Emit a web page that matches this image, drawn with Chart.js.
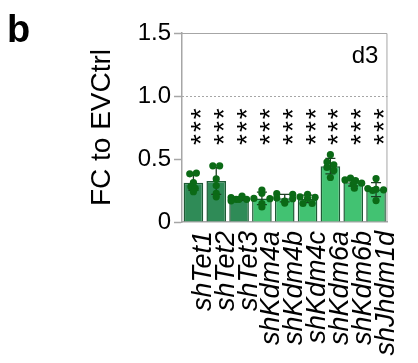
<!DOCTYPE html>
<html>
<head>
<meta charset="utf-8">
<script src="https://cdn.jsdelivr.net/npm/chart.js@4.4.1/dist/chart.umd.min.js"></script>
<style>
  body { margin: 0; background: #fff; }
  canvas { display: block; }
</style>
</head>
<body>
<canvas id="fcChart" width="418" height="363"></canvas>
<script>
// Datos (d3, FC to EVCtrl)
const categories = ['shTet1', 'shTet2', 'shTet3', 'shKdm4a', 'shKdm4b', 'shKdm4c', 'shKdm6a', 'shKdm6b', 'shJhdm1d'];

// replicas por shRNA
const replicates = [
    [0.382, 0.388, 0.313, 0.280, 0.268, 0.240],
    [0.446, 0.446, 0.342, 0.289, 0.228, 0.200],
    [0.206, 0.193, 0.180, 0.180, 0.180, 0.168],
    [0.254, 0.228, 0.187, 0.185, 0.147, 0.120],
    [0.225, 0.220, 0.190, 0.185, 0.165, 0.150],
    [0.220, 0.200, 0.196, 0.187, 0.147, 0.147],
    [0.534, 0.476, 0.454, 0.433, 0.409, 0.353],
    [0.334, 0.348, 0.329, 0.308, 0.300, 0.268],
    [0.345, 0.265, 0.260, 0.255, 0.250, 0.170]
];

// desplazamiento horizontal de cada punto (fraccion de la categoria)
const jitter = [
    [-0.16, 0.13, 0, -0.11, 0.08, 0],
    [-0.15, 0.15, 0, 0, 0, 0],
    [0.13, -0.35, -0.13, 0, 0.33, -0.35],
    [0, 0, -0.35, 0.35, 0, 0],
    [-0.35, 0.35, -0.35, 0.35, 0, 0],
    [0, -0.33, 0.33, 0, -0.2, 0.2],
    [0, -0.15, 0.15, -0.15, 0.15, 0],
    [-0.36, -0.12, 0.1, 0.37, 0, 0.05],
    [0, -0.36, 0, 0.33, -0.15, 0]
];

const significance = ['***', '***', '***', '***', '***', '***', '***', '***', '***'];
const yTicks = [0, 0.5, 1.0, 1.5];
const refLine = 1.0;
const panelLabel = 'b';
const dayLabel = 'd3';

// media y desviacion estandar
const means = replicates.map(r => r.reduce((a, b) => a + b, 0) / r.length);
const sds = replicates.map((r, i) => {
    const m = means[i];
    return Math.sqrt(r.reduce((a, v) => a + (v - m) * (v - m), 0) / (r.length - 1));
});

const points = [];
replicates.forEach((r, i) => {
    r.forEach((v, j) => points.push({ x: i + jitter[i][j], y: v }));
});

const FONT = "'Liberation Sans', Arial, sans-serif";
const GRAY = '#a6a6a6';

// marco, linea punteada, barras de error y textos
const extras = {
    id: 'extras',
    beforeDatasetsDraw(chart) {
        const { ctx, chartArea: a, scales: { y } } = chart;
        ctx.save();
        ctx.strokeStyle = GRAY;
        ctx.lineWidth = 1;
        ctx.setLineDash([2, 2]);
        const yr = Math.round(y.getPixelForValue(refLine)) + 0.5;
        ctx.beginPath();
        ctx.moveTo(a.left, yr);
        ctx.lineTo(a.right, yr);
        ctx.stroke();
        ctx.setLineDash([]);
        ctx.beginPath();
        ctx.moveTo(a.left, a.top + 0.5);
        ctx.lineTo(a.right - 0.5, a.top + 0.5);
        ctx.lineTo(a.right - 0.5, a.bottom);
        ctx.stroke();
        ctx.restore();
    },
    afterDatasetDraw(chart, args) {
        if (args.index !== 1) return;
        const { ctx, scales: { y } } = chart;
        const bars = chart.getDatasetMeta(1).data;
        ctx.save();
        ctx.strokeStyle = '#1c3f22';
        ctx.lineWidth = 1.3;
        bars.forEach((bar, i) => {
            const x = bar.x;
            const top = y.getPixelForValue(means[i] + sds[i]);
            const bot = y.getPixelForValue(means[i] - sds[i]);
            ctx.beginPath();
            ctx.moveTo(x, top); ctx.lineTo(x, bot);
            ctx.moveTo(x - 5, top); ctx.lineTo(x + 5, top);
            ctx.moveTo(x - 5, bot); ctx.lineTo(x + 5, bot);
            ctx.stroke();
        });
        ctx.restore();
    },
    afterDraw(chart) {
        const { ctx, chartArea: a, scales: { y } } = chart;
        const bars = chart.getDatasetMeta(1).data;
        ctx.save();
        ctx.fillStyle = '#000';
        ctx.font = 'bold 38px ' + FONT;
        ctx.textAlign = 'left';
        ctx.textBaseline = 'alphabetic';
        ctx.fillText(panelLabel, 7, 42);

        ctx.font = '24px ' + FONT;
        ctx.textAlign = 'right';
        ctx.fillText(dayLabel, a.right - 9, 63);

        const ys = y.getPixelForValue(0.765);
        ctx.font = '28px ' + FONT;
        ctx.textAlign = 'center';
        ctx.letterSpacing = '2px';
        bars.forEach((bar, i) => {
            ctx.save();
            ctx.translate(bar.x + 1, ys);
            ctx.rotate(-Math.PI / 2);
            ctx.fillText(significance[i], 0, 28 * 0.57);
            ctx.restore();
        });
        ctx.restore();
    }
};

const fcChart = new Chart(document.getElementById('fcChart'), {
    type: 'bar',
    data: {
        labels: categories,
        datasets: [{
            type: 'scatter',
            data: points,
            xAxisID: 'xj',
            order: 1,
            pointRadius: 3.6,
            pointBackgroundColor: '#0b6a16',
            pointBorderWidth: 0
        }, {
            type: 'bar',
            data: means,
            xAxisID: 'x',
            order: 2,
            grouped: false,
            backgroundColor: ctx => categories[ctx.dataIndex].startsWith('shTet') ? '#2f8b57' : '#42c272',
            borderColor: '#1f5a36',
            borderWidth: 1.5,
            barPercentage: 0.86,
            categoryPercentage: 1
        }]
    },
    options: {
        responsive: false,
        animation: false,
        layout: { padding: { left: 85, top: 33, right: 10, bottom: 0 } },
        plugins: { legend: { display: false }, tooltip: { enabled: false } },
        scales: {
            x: {
                type: 'category',
                offset: true,
                grid: { display: false, drawTicks: false },
                border: { display: true, color: GRAY, width: 1.5 },
                ticks: {
                    autoSkip: false,
                    maxRotation: 90,
                    minRotation: 90,
                    padding: 9,
                    labelOffset: 10,
                    color: '#000',
                    font: { family: FONT, size: 27, style: 'italic' }
                },
                afterFit: s => { s.height = 141; }
            },
            xj: {
                type: 'linear',
                display: false,
                offset: false,
                grid: { offset: false },
                min: -0.5,
                max: categories.length - 0.5
            },
            y: {
                min: yTicks[0],
                max: yTicks[yTicks.length - 1],
                afterBuildTicks: s => { s.ticks = yTicks.map(v => ({ value: v })); },
                grid: { drawOnChartArea: false, drawTicks: true, tickLength: 8, tickColor: GRAY, tickWidth: 1.5 },
                border: { display: true, color: GRAY, width: 1.5 },
                ticks: {
                    padding: 3,
                    color: '#000',
                    font: { family: FONT, size: 24 },
                    callback: v => v === 0 ? '0' : v.toFixed(1)
                },
                title: {
                    display: true,
                    text: 'FC to EVCtrl',
                    color: '#000',
                    padding: 0,
                    font: { family: FONT, size: 28 }
                },
                afterFit: s => { s.width = 97; }
            }
        }
    },
    plugins: [extras]
});
</script>
</body>
</html>
